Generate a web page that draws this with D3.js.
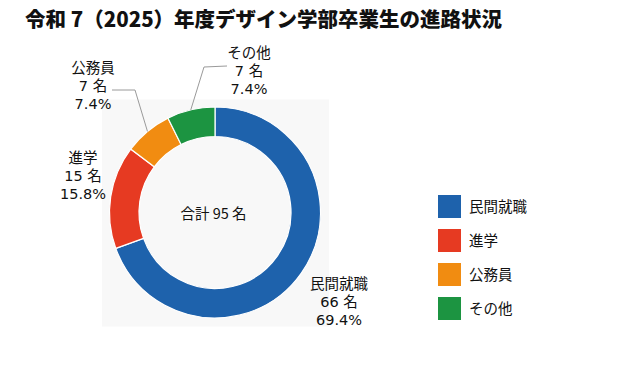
<!DOCTYPE html>
<html>
<head>
<meta charset="utf-8">
<script src="https://cdn.jsdelivr.net/npm/d3@7"></script>
<style>
  body { margin: 0; background: #fff; }
  text { font-family: "DejaVu Sans", "Noto Sans CJK JP", sans-serif; }
  text.title, text.total { font-family: "Noto Sans CJK JP", sans-serif; }
</style>
</head>
<body>
<div id="chart"></div>
<script>
// data
var categories = ["民間就職", "進学", "公務員", "その他"];
var counts = [66, 15, 7, 7];
var percentLabels = ["69.4%", "15.8%", "7.4%", "7.4%"];
var colors = ["#1e62ac", "#e63a22", "#f18c11", "#1c9441"];
var titleText = "令和 7（2025）年度デザイン学部卒業生の進路状況";
var totalText = "合計 95 名";

var width = 619, height = 370;
var cx = 215, cy = 212.5;
var outerR = 105.5, innerR = 76;

var svg = d3.select("#chart")
  .append("svg")
  .attr("width", width)
  .attr("height", height);

// title
svg.append("text")
  .attr("class", "title")
  .attr("x", 25)
  .attr("y", 27)
  .style("font-size", "20.5px")
  .style("font-weight", "900")
  .attr("fill", "#111")
  .text(titleText);

// plot area background
svg.append("rect")
  .attr("x", 102)
  .attr("y", 99.5)
  .attr("width", 227)
  .attr("height", 227)
  .attr("fill", "#f8f8f8");

var g = svg.append("g")
  .attr("transform", "translate(" + cx + "," + cy + ")");

var pie = d3.pie().sort(null).value(function(d) { return d; });
var arcs = pie(counts);

var arc = d3.arc().innerRadius(innerR).outerRadius(outerR);

g.selectAll("path.slice")
  .data(arcs)
  .enter()
  .append("path")
  .attr("class", "slice")
  .attr("d", arc)
  .attr("fill", function(d, i) { return colors[i]; })
  .attr("stroke", "#fff")
  .attr("stroke-width", 1.2);

// centre text
g.append("text")
  .attr("class", "total")
  .attr("x", -1.5)
  .attr("y", 6)
  .attr("text-anchor", "middle")
  .style("font-size", "14.5px")
  .attr("fill", "#111")
  .text(totalText);

// label layout: first-line position relative to centre, plus optional leader elbow
var labelLayout = [
  { x: 124, y: 76, leader: null },
  { x: -132, y: -50, leader: null },
  { x: -122, y: -140, leader: { elbow: [-80, -122.5], end: [-103, -122.5] } },
  { x: 34, y: -155, leader: { elbow: [-11, -145.5], end: [12, -146.5] } }
];

var lineH = 18.3;

arcs.forEach(function(d, i) {
  var lay = labelLayout[i];
  var t = g.append("text")
    .attr("text-anchor", "middle")
    .style("font-size", "14.5px")
    .attr("fill", "#111");
  var lines = [categories[i], counts[i] + " 名", percentLabels[i]];
  lines.forEach(function(s, k) {
    t.append("tspan")
      .attr("x", lay.x)
      .attr("y", lay.y + k * lineH)
      .text(s);
  });
  if (lay.leader) {
    var mid = (d.startAngle + d.endAngle) / 2;
    var p0 = [Math.sin(mid) * outerR, -Math.cos(mid) * outerR];
    g.append("polyline")
      .attr("points", [p0, lay.leader.elbow, lay.leader.end].map(function(p) { return p.join(","); }).join(" "))
      .attr("fill", "none")
      .attr("stroke", "#9a9a9a")
      .attr("stroke-width", 1);
  }
});

// legend
var legend = svg.append("g")
  .attr("transform", "translate(438,195)");

var item = legend.selectAll("g.item")
  .data(categories)
  .enter()
  .append("g")
  .attr("class", "item")
  .attr("transform", function(d, i) { return "translate(0," + (i * 34) + ")"; });

item.append("rect")
  .attr("width", 23)
  .attr("height", 23)
  .attr("fill", function(d, i) { return colors[i]; });

item.append("text")
  .attr("x", 31)
  .attr("y", 17)
  .style("font-size", "14.5px")
  .attr("fill", "#111")
  .text(function(d) { return d; });
</script>
</body>
</html>
